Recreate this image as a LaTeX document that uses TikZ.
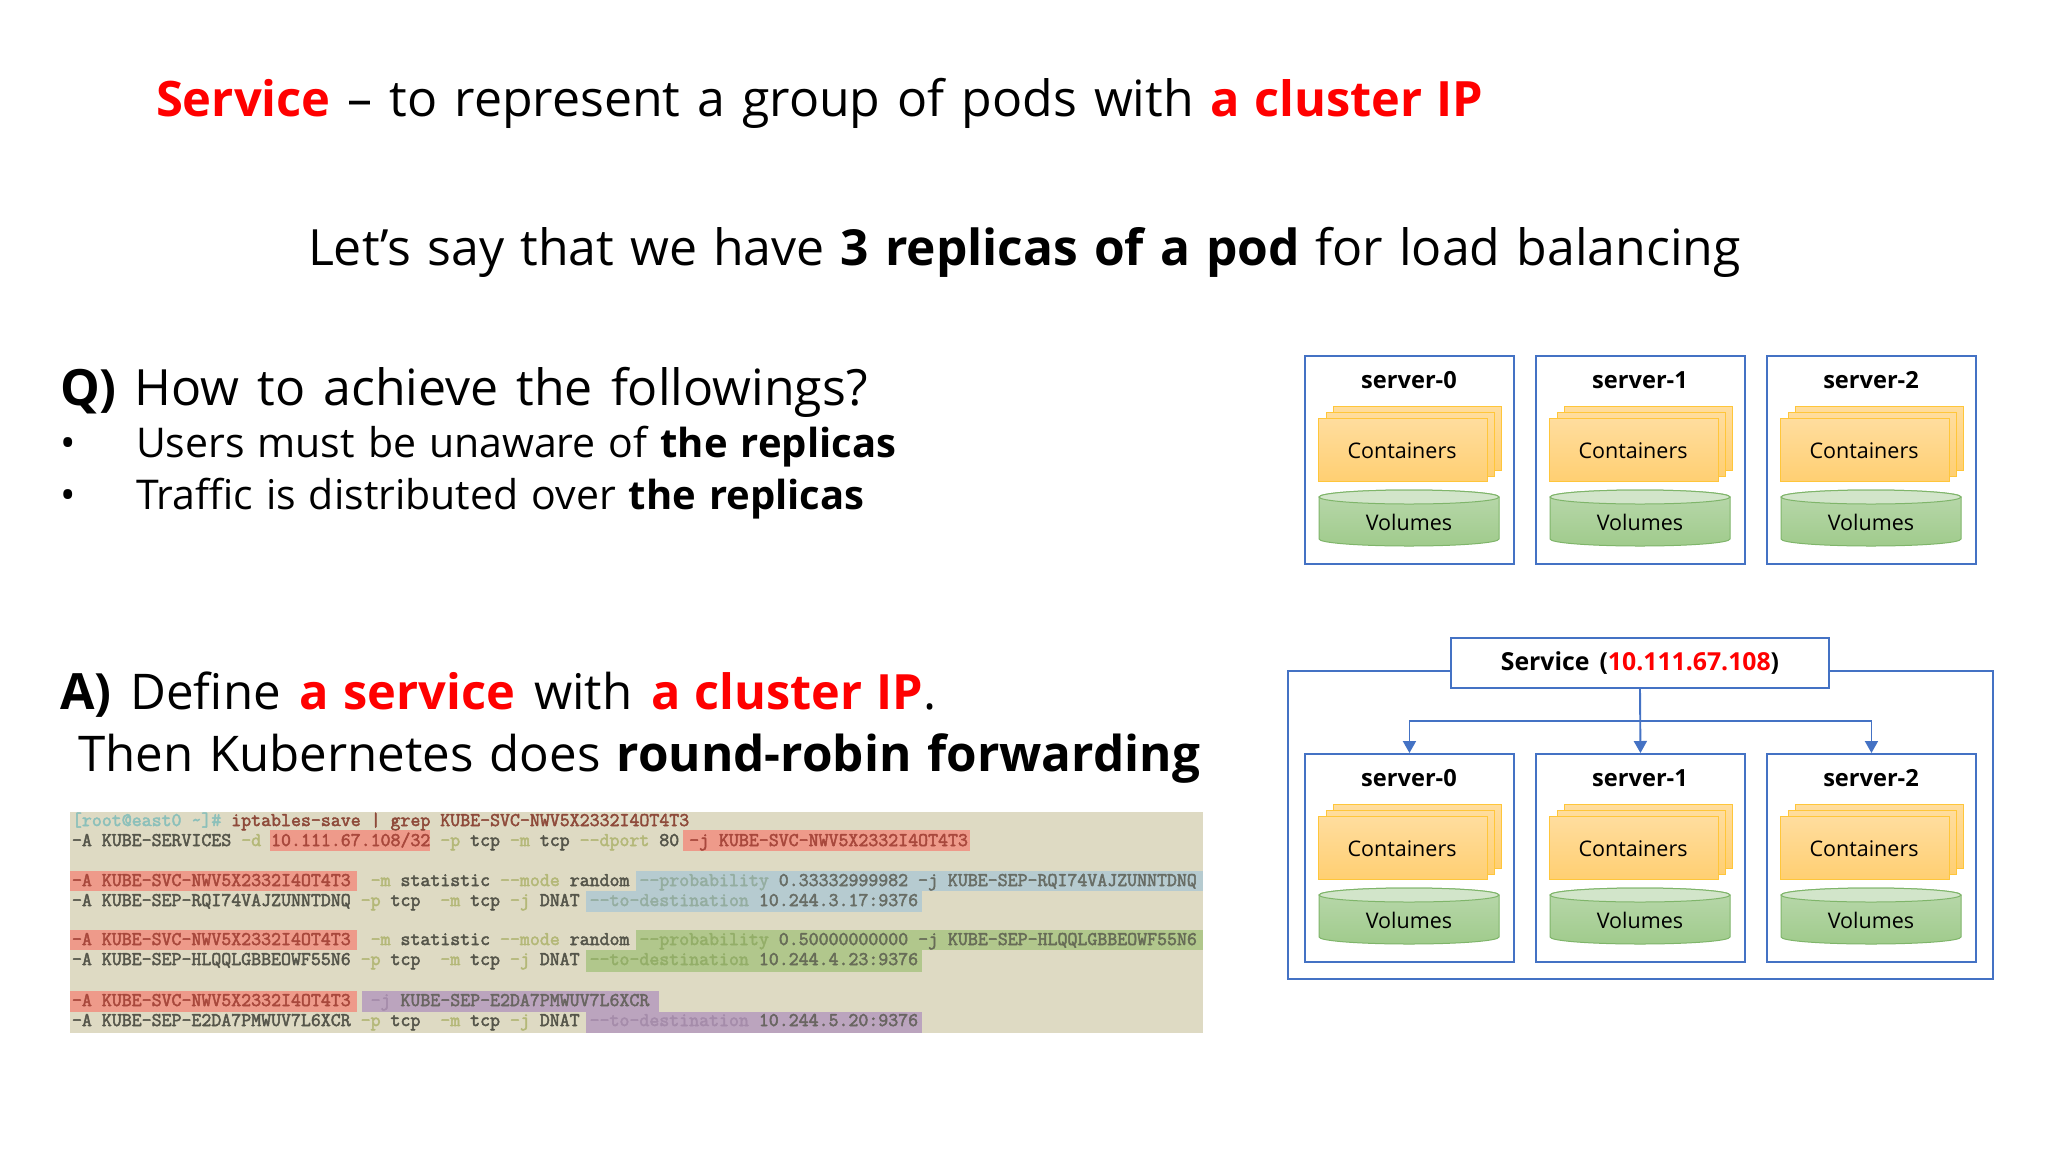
\documentclass[tikz,border=0pt]{standalone}
\usepackage{fontspec}
\setmainfont{Open Sans}
\newfontfamily\termfont{Latin Modern Mono}[FakeBold=2.5]
\usetikzlibrary{arrows.meta,positioning}
\definecolor{kblue}{HTML}{4472C4}
\definecolor{kred}{HTML}{FF0000}
\definecolor{termbg}{HTML}{DEDAC3}
\definecolor{hred}{HTML}{EE9A8A}
\definecolor{hblue}{HTML}{B6CBD0}
\definecolor{hgreen}{HTML}{B1C78C}
\definecolor{hpurple}{HTML}{BBA4BE}
\definecolor{tdark}{HTML}{55554A}
\definecolor{tflag}{HTML}{B4B878}
\definecolor{tcyan}{HTML}{8CC0BA}
\definecolor{tbrown}{HTML}{8E4A3A}
\definecolor{tredd}{HTML}{A8483C}
\definecolor{tflagb}{HTML}{94ADA0}
\definecolor{tflagg}{HTML}{93AE68}
\definecolor{tflagp}{HTML}{A58CAA}
\definecolor{contb}{HTML}{FFC63A}
\definecolor{contt}{HTML}{FFDD9E}
\definecolor{contd}{HTML}{FFCF72}
\definecolor{volb}{HTML}{7FB56A}
\definecolor{volt}{HTML}{B9D8AC}
\definecolor{vold}{HTML}{A0CB8C}
\definecolor{voltop}{HTML}{D2E5CA}
\newcommand{\fsz}[1]{\fontsize{#1}{#1}\selectfont}
\newcommand{\wsp}[1]{\spaceskip=#1pt plus 0pt minus 0pt\relax}
\newcommand{\bs}[2]{{\fsz{#1}\bfseries #2}}
\newcommand{\rb}[2]{\textcolor{kred}{\bs{#1}{\wsp{14}#2}}}
\newcommand{\fl}[1]{\textcolor{tflag}{#1}}
\tikzset{
  txt/.style={anchor=base west,inner sep=0pt,outer sep=0pt,text=black},
  term/.style={anchor=base west,inner sep=0pt,outer sep=0pt,text=tdark,font=\termfont\fsz{19.33}},
  srv/.style={draw=kblue,line width=1.9pt,fill=white,minimum width=209pt,minimum height=208pt,inner sep=0pt},
  outerbox/.style={draw=kblue,line width=1.9pt,fill=white,inner sep=0pt},
  svcbox/.style={draw=kblue,line width=1.9pt,fill=white,minimum width=378pt,minimum height=50pt,inner sep=0pt,font=\bfseries\fsz{24.8}},
  srvtitle/.style={inner sep=0pt,font=\bfseries\fsz{23.6}},
  cont/.style={draw=contb,line width=1pt,top color=contt,bottom color=contd},
  lab/.style={inner sep=0pt,font=\fsz{21.5}},
  link/.style={draw=kblue,line width=1.9pt},
  arrowlink/.style={link,-{Triangle[length=12pt,width=13pt]}},
}
% #1 node prefix, #2 digit, #3 box left, #4 box top
\newcommand{\serverblock}[4]{%
  \node[srv,anchor=north west] (#1) at (#3,#4) {};
  \begin{scope}[shift={(#3,#4)}]
    \node[srvtitle] (#1title) at (105,25) {server-#2};
    \draw[cont] (29,51) rectangle (197.5,115);
    \draw[cont] (22,57) rectangle (190,121);
    \node[cont,anchor=north west,minimum width=169pt,minimum height=63pt,inner sep=0pt] (#1cont) at (14,63) {};
    \node[lab] (#1contl) at (98,96) {Containers};
    \draw[draw=volb,line width=1pt,top color=volt,bottom color=vold]
      (15,142) -- (15,184) arc[start angle=180,end angle=0,x radius=90,y radius=7] -- (195,142) arc[start angle=0,end angle=-180,x radius=90,y radius=7] -- cycle;
    \draw[draw=volb,line width=1pt,fill=voltop] (105,142) ellipse[x radius=90,y radius=7];
    \node[lab] (#1voll) at (105,167) {Volumes};
  \end{scope}
}
\begin{document}
\begin{tikzpicture}[x=1pt,y=-1pt]
\useasboundingbox[fill=white] (0,0) rectangle (2048,1152);

\node[txt,font=\fsz{50}] (title) at (156,116) {\wsp{17}\rb{48.9}{Service} – to represent a group of pods with \rb{48.7}{a cluster IP}};
\node[txt,font=\fsz{50}] (line2) at (308,265) {\wsp{16}Let’s say that we have \bs{49.7}{3 replicas of a pod} for load balancing};
\node[txt,font=\fsz{50}] (q) at (60,405) {\wsp{18}\textbf{Q)} How to achieve the followings?};
\node[txt,font=\fsz{41}] (b1) at (60,457) {•};
\node[txt,font=\fsz{41}] (b1t) at (136,457) {\wsp{13}Users must be unaware of \bs{40}{the replicas}};
\node[txt,font=\fsz{41}] (b2) at (60,509) {•};
\node[txt,font=\fsz{41}] (b2t) at (136,509) {\wsp{13}Traffic is distributed over \bs{40}{the replicas}};
\node[txt,font=\fsz{49.2}] (a1) at (60,709) {\wsp{19}\bs{50}{A)} Define \rb{48.8}{a service} with \rb{48.6}{a cluster IP}.};
\node[txt,font=\fsz{49.2}] (a2) at (78,771) {\wsp{16}Then Kubernetes does \bs{49.4}{round-robin forwarding}};

% terminal picture
\fill[termbg] (70,812) rectangle (1203,1033);
\fill[hred] (270,830) rectangle (430,851);
\fill[hred] (683,830) rectangle (970,851);
\fill[hred] (70,871) rectangle (357,891);
\fill[hblue] (636,871) rectangle (1203,891);
\fill[hblue] (586,891) rectangle (922,912);
\fill[hred] (70,930) rectangle (357,950);
\fill[hgreen] (636,930) rectangle (1203,950);
\fill[hgreen] (586,950) rectangle (922,972);
\fill[hred] (70,991) rectangle (357,1012);
\fill[hpurple] (362,991) rectangle (659,1012);
\fill[hpurple] (586,1012) rectangle (922,1033);
\node[term] (t1) at (72,826) {\textcolor{tcyan}{[root@east0 \string~]\#} \textcolor{tbrown}{iptables-save | grep KUBE-SVC-NWV5X2332I4OT4T3}};
\node[term] (t2) at (72,846) {-A KUBE-SERVICES \fl{-d} \textcolor{tredd}{10.111.67.108/32} \fl{-p} tcp \fl{-m} tcp \fl{--dport} 80 \textcolor{tredd}{-j KUBE-SVC-NWV5X2332I4OT4T3}};
\node[term] (t3) at (72,886) {\textcolor{tredd}{-A KUBE-SVC-NWV5X2332I4OT4T3}\ \ \fl{-m} statistic \fl{--mode} random \textcolor{tflagb}{--probability} \textcolor{tdark!80!hblue}{0.33332999982 -j KUBE-SEP-RQI74VAJZUNNTDNQ}};
\node[term] (t4) at (72,906) {-A KUBE-SEP-RQI74VAJZUNNTDNQ \fl{-p} tcp\ \ \fl{-m} tcp \fl{-j} DNAT \textcolor{tflagb}{--to-destination} \textcolor{tdark!80!hblue}{10.244.3.17:9376}};
\node[term] (t5) at (72,945) {\textcolor{tredd}{-A KUBE-SVC-NWV5X2332I4OT4T3}\ \ \fl{-m} statistic \fl{--mode} random \textcolor{tflagg}{--probability} \textcolor{tdark!80!hgreen}{0.50000000000 -j KUBE-SEP-HLQQLGBBEOWF55N6}};
\node[term] (t6) at (72,965) {-A KUBE-SEP-HLQQLGBBEOWF55N6 \fl{-p} tcp\ \ \fl{-m} tcp \fl{-j} DNAT \textcolor{tflagg}{--to-destination} \textcolor{tdark!80!hgreen}{10.244.4.23:9376}};
\node[term] (t7) at (72,1006) {\textcolor{tredd}{-A KUBE-SVC-NWV5X2332I4OT4T3}\ \ \textcolor{tflagp}{-j} \textcolor{tdark!80!hpurple}{KUBE-SEP-E2DA7PMWUV7L6XCR}};
\node[term] (t8) at (72,1026) {-A KUBE-SEP-E2DA7PMWUV7L6XCR \fl{-p} tcp\ \ \fl{-m} tcp \fl{-j} DNAT \textcolor{tflagp}{--to-destination} \textcolor{tdark!80!hpurple}{10.244.5.20:9376}};

% upper servers
\serverblock{u0}{0}{1304}{355}
\serverblock{u1}{1}{1535}{355}
\serverblock{u2}{2}{1766}{355}

% lower diagram
\node[outerbox,anchor=north west,minimum width=705pt,minimum height=308pt] (outer) at (1287,670) {};
\node[svcbox] (svc) at (1640,663) {\wsp{10}Service (\textcolor{kred}{10.111.67.108})};
\coordinate (branch) at (1640,721);
\serverblock{l0}{0}{1304}{753}
\serverblock{l1}{1}{1535}{753}
\serverblock{l2}{2}{1766}{753}
\draw[arrowlink] (svc.south) -- (l1.north);
\draw[arrowlink] (branch) -| (l0.north);
\draw[arrowlink] (branch) -| (l2.north);
\end{tikzpicture}
\end{document}
